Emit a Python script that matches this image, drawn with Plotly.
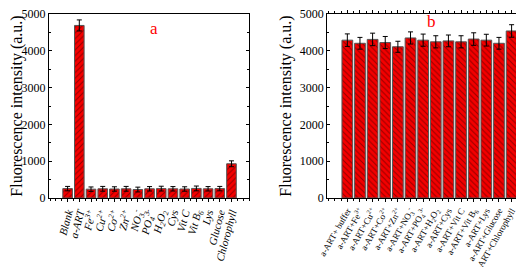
import plotly.graph_objects as go

# ---- data ----
left_labels = ["Blank", "a-ART", "Fe<sup>3+</sup>", "Cu<sup>2+</sup>", "Co<sup>2+</sup>",
               "Zn<sup>2+</sup>", "NO<sub>3</sub><sup>-</sup>", "PO<sub>4</sub><sup>3-</sup>",
               "H<sub>2</sub>O<sub>2</sub>", "Cys", "Vit C", "Vit B<sub>6</sub>", "Lys",
               "Glucose", "Chlorophyll"]
left_values = [255, 4690, 240, 250, 245, 250, 230, 250, 255, 250, 245, 260, 250, 255, 930]
left_errors = [60, 150, 60, 65, 60, 65, 65, 60, 65, 60, 60, 65, 60, 60, 80]

right_labels = ["a-ART+ buffer", "a-ART+Fe<sup>3+</sup>", "a-ART+Cu<sup>2+</sup>",
                "a-ART+Co<sup>2+</sup>", "a-ART+Zn<sup>2+</sup>", "a-ART+NO<sub>3</sub><sup>-</sup>",
                "a-ART+PO<sub>4</sub><sup>3-</sup>", "a-ART+H<sub>2</sub>O<sub>2</sub>",
                "a-ART+Cys", "a-ART+Vit C", "a-ART+Vit B<sub>6</sub>", "a-ART+Lys",
                "a-ART+Glucose", "a-ART+Chlorophyll"]
right_values = [4290, 4205, 4310, 4225, 4110, 4350, 4290, 4245, 4270, 4245, 4320, 4290, 4205, 4540]
right_errors = [170, 160, 170, 165, 150, 165, 165, 165, 160, 165, 170, 160, 160, 170]

y_ticks = [0, 1000, 2000, 3000, 4000, 5000]

FONT = "Liberation Serif, Times New Roman, serif"
RED = "#f40000"
DARK = "#3a0000"

fig = go.Figure()

fig.add_trace(go.Bar(
    x=list(range(len(left_labels))), y=left_values,
    error_y=dict(type="data", array=left_errors, color="black", thickness=1, width=2.5),
    marker=dict(color=RED, line=dict(color="#555555", width=1),
                pattern=dict(shape="/", fgcolor=DARK, size=4, solidity=0.28, fillmode="overlay")),
    width=0.82, xaxis="x", yaxis="y", showlegend=False))

fig.add_trace(go.Bar(
    x=list(range(len(right_labels))), y=right_values,
    error_y=dict(type="data", array=right_errors, color="black", thickness=1, width=2.5),
    marker=dict(color=RED, line=dict(color="#555555", width=1),
                pattern=dict(shape="\\", fgcolor=DARK, size=4, solidity=0.28, fillmode="overlay")),
    width=0.85, xaxis="x2", yaxis="y2", showlegend=False))

axis_common = dict(showline=True, linecolor="black", linewidth=1, showgrid=False,
                   zeroline=False, ticks="outside", ticklen=3, tickcolor="black",
                   automargin=False, ticklabeloverflow="allow",
                   tickfont=dict(family=FONT, size=12, color="black"))

yax = dict(axis_common, range=[0, 5001], tickvals=y_ticks, mirror="ticks", ticks="inside",
           ticklen=3, minor=dict(dtick=500, ticks="inside", ticklen=2, tickcolor="black"),
           title=dict(text="Fluorescence intensity (a.u.)",
                      font=dict(family=FONT, size=16, color="black"), standoff=4))

fig.update_layout(
    width=524, height=267,
    margin=dict(l=0, r=0, t=6, b=77),
    plot_bgcolor="white", paper_bgcolor="white",
    bargap=0.15,
    xaxis=dict(axis_common, domain=[0.078, 0.46], range=[-1.6, 15.5],
               tickvals=list(range(len(left_labels))), ticktext=left_labels,
               tickangle=-75, mirror=True,
               minor=dict(dtick=0.5, ticks="outside", ticklen=2, tickcolor="black"),
               tickfont=dict(family=FONT, size=11, color="black", style="italic"), anchor="y"),
    yaxis=dict(yax, domain=[0, 1], anchor="x"),
    xaxis2=dict(axis_common, domain=[0.609, 0.99], range=[-1.6, 14.2],
                tickvals=list(range(len(right_labels))), ticktext=right_labels,
                tickangle=-60, mirror="ticks",
                minor=dict(dtick=0.5, ticks="outside", ticklen=2, tickcolor="black"),
                tickfont=dict(family=FONT, size=9, color="black"), anchor="y2"),
    yaxis2=dict(yax, domain=[0, 1], anchor="x2"),
    annotations=[
        dict(text="a", x=7.4, y=4600, xref="x", yref="y", showarrow=False,
             font=dict(family=FONT, size=17, color="red")),
        dict(text="b", x=6.7, y=4800, xref="x2", yref="y2", showarrow=False,
             font=dict(family=FONT, size=17, color="red")),
    ],
)

fig.write_html("out.html")
